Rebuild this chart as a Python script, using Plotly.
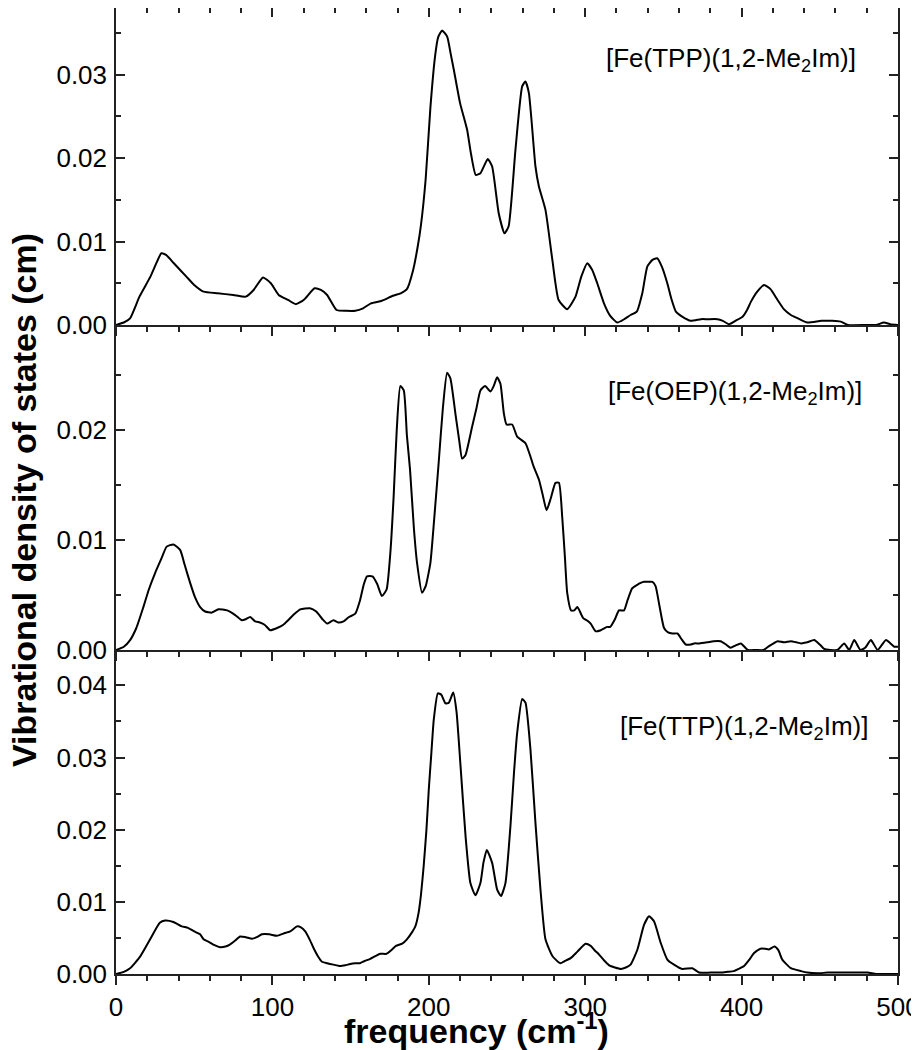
import plotly.graph_objects as go

# ---------------- data ----------------
tpp_freq = [0, 5, 9, 15, 22, 26, 29, 32, 37, 45, 50, 56, 65, 75, 83, 88, 94, 99, 104, 110,
            115, 120, 127, 131, 135, 141, 147, 153, 158, 163, 170, 177, 182, 186, 190, 193, 195,
            198, 201, 204, 206, 208.5, 211.7, 214, 216, 220, 224.5, 227, 230, 233, 237.7, 240.5,
            244.7, 248.4, 251, 255.4, 259.7, 261.8, 264, 268.2, 270.4, 274.6, 279, 283, 288.5,
            293.8, 297.5, 301.3, 304.5, 307.7, 312, 316, 320.5, 325, 329, 333, 336.5, 339.7, 343,
            346, 349, 352.5, 355, 358, 362, 367.5, 374, 378, 384.6, 388, 392, 396, 400.6, 403.5,
            406, 410, 414.4, 418.5, 423, 427, 431.5, 436, 442, 451, 458, 463.5, 468, 480, 486,
            491, 495, 500]
tpp_dos = [0, 0.0003, 0.0008, 0.0034, 0.0058, 0.0075, 0.0086, 0.0084, 0.0074, 0.0058, 0.0048,
           0.0040, 0.0038, 0.0036, 0.0034, 0.0042, 0.0057, 0.0050, 0.0036, 0.0030, 0.0025, 0.0030,
           0.0044, 0.0042, 0.0036, 0.0018, 0.0017, 0.0017, 0.0020, 0.0026, 0.0029, 0.0035, 0.0038,
           0.0043, 0.0066, 0.0095, 0.0120, 0.0175, 0.0260, 0.0322, 0.0345, 0.0353, 0.0346, 0.0325,
           0.0306, 0.0266, 0.0234, 0.0205, 0.0180, 0.0182, 0.0199, 0.0190, 0.0134, 0.0110, 0.0118,
           0.0210, 0.0286, 0.0292, 0.0278, 0.0190, 0.0166, 0.0138, 0.0078, 0.0030, 0.0019, 0.0034,
           0.0058, 0.0074, 0.0066, 0.0050, 0.0026, 0.0011, 0.0003, 0.0007, 0.0012, 0.0016, 0.0038,
           0.0070, 0.0078, 0.0080, 0.0070, 0.0050, 0.0032, 0.0016, 0.0010, 0.0005, 0.0007, 0.0007,
           0.0007, 0.0005, 0.0001, 0.0005, 0.0010, 0.0018, 0.0028, 0.0040, 0.0048, 0.0043, 0.0030,
           0.0019, 0.0012, 0.0008, 0.0003, 0.0005, 0.0005, 0.0004, 0.0000, 0.0000, 0.0000, 0.0003,
           0.0001, 0.0000]

oep_freq = [0, 5, 9, 13, 17.5, 21, 25, 29, 32.4, 36.7, 41, 44, 47.4, 50.5, 53.8, 57, 61.3, 65.5,
            71, 76, 80.5, 83, 85.8, 89, 92, 95, 98.6, 103, 107, 110, 113.5, 117.8, 124, 128, 132,
            135, 139, 142, 145.5, 149, 153, 156, 158.5, 160.5, 164, 167, 170, 173, 175.5, 177.5,
            179.5, 181.8, 184, 186, 188, 190.5, 192.5, 195.7, 198, 201, 203.5, 206.3, 209, 211.7,
            213.8, 217, 219.5, 221.3, 223.4, 227.7, 230.5, 233, 236, 239.4, 241.5, 243.7, 245.8,
            248, 249.7, 253.3, 256.5, 261.8, 264.5, 267, 270.4, 273, 275.3, 278, 281, 283.2, 285.3,
            287, 288.5, 291, 293, 295, 298.7, 301, 303.5, 306.7, 310, 314, 316, 319, 321.6, 324.8,
            327, 330, 333, 335.5, 337.6, 341, 343, 345, 347.5, 350.4, 353, 355.8, 359, 361.5,
            364.3, 367.5, 369.6, 373, 378, 382, 386.6, 390, 393, 396, 399.5, 404, 409, 414, 418,
            423, 427, 431.5, 435, 438, 442, 446.4, 450, 452.8, 457, 461.3, 465.6, 468.8, 472, 476,
            479, 482.7, 487, 492.3, 497.6, 500]
oep_dos = [0, 0.0003, 0.0009, 0.0020, 0.0039, 0.0055, 0.0070, 0.0083, 0.0094, 0.0096, 0.0091,
           0.0077, 0.0061, 0.0048, 0.0039, 0.0035, 0.0034, 0.0037, 0.0036, 0.0032, 0.0027, 0.0028,
           0.0030, 0.0026, 0.0025, 0.0023, 0.0018, 0.0020, 0.0023, 0.0027, 0.0032, 0.0037, 0.0038,
           0.0035, 0.0028, 0.0024, 0.0027, 0.0025, 0.0026, 0.0030, 0.0033, 0.0045, 0.0060, 0.0067,
           0.0067, 0.0060, 0.0049, 0.0055, 0.0090, 0.0139, 0.0200, 0.0240, 0.0236, 0.0195, 0.0164,
           0.0110, 0.0079, 0.0052, 0.0058, 0.0079, 0.0120, 0.0170, 0.0220, 0.0252, 0.0247, 0.0215,
           0.0190, 0.0174, 0.0177, 0.0203, 0.0220, 0.0236, 0.0240, 0.0235, 0.0240, 0.0248, 0.0242,
           0.0215, 0.0205, 0.0205, 0.0194, 0.0188, 0.0178, 0.0167, 0.0155, 0.0140, 0.0127, 0.0138,
           0.0152, 0.0152, 0.0121, 0.0085, 0.0052, 0.0036, 0.0036, 0.0039, 0.0029, 0.0027, 0.0024,
           0.0017, 0.0018, 0.0021, 0.0021, 0.0028, 0.0036, 0.0036, 0.0045, 0.0056, 0.0059, 0.0061,
           0.0062, 0.0062, 0.0062, 0.0058, 0.0040, 0.0020, 0.0016, 0.0015, 0.0015, 0.0010, 0.0005,
           0.0005, 0.0006, 0.0006, 0.0007, 0.0008, 0.0008, 0.0005, 0.0002, 0.0004, 0.0006, 0.0000,
           0.0000, 0.0000, 0.0004, 0.0008, 0.0007, 0.0008, 0.0007, 0.0006, 0.0007, 0.0009, 0.0005,
           0.0001, 0.0000, 0.0000, 0.0006, 0.0000, 0.0009, 0.0000, 0.0002, 0.0009, 0.0000, 0.0009,
           0.0003, 0.0003]

ttp_freq = [0, 5, 9, 15.4, 21.8, 28, 31.4, 36.7, 42, 46, 50, 53.8, 56, 59, 63, 66.6, 70, 73, 76,
            79.4, 83, 87, 90, 93.3, 98, 102.9, 107, 111.4, 115.7, 118, 121, 124, 126.3, 129, 131.7,
            135, 139, 143.4, 146.5, 149.8, 153, 156, 159, 162.6, 166, 169, 173, 176, 179, 183, 186,
            189, 191.4, 193.5, 195, 196.7, 198.5, 200, 201.6, 203.2, 205.8, 208, 210.7, 212.8,
            215.6, 217.7, 220.3, 223.5, 226.6, 229.8, 233, 235, 237.1, 240.5, 243.7, 246.2, 249,
            252.2, 254.5, 256.5, 259.7, 261.8, 265, 268.2, 271.4, 274.6, 279, 284, 287, 290.7, 295,
            300.2, 303.5, 306, 308.8, 312, 315.3, 319, 322.8, 326, 329, 333.4, 337.6, 340.8, 344,
            348.3, 352.5, 356.8, 362, 368.5, 372.8, 380, 386.7, 391, 395, 398, 401.6, 405, 408, 412,
            415, 417.5, 421, 423.5, 426, 431.5, 438, 442, 448.5, 455, 462, 470, 476, 480.6, 486,
            491, 500]
ttp_dos = [0, 0.0003, 0.0008, 0.0024, 0.0048, 0.0071, 0.0074, 0.0072, 0.0066, 0.0064, 0.0059,
           0.0055, 0.0048, 0.0045, 0.0040, 0.0037, 0.0038, 0.0041, 0.0046, 0.0052, 0.0051, 0.0049,
           0.0051, 0.0055, 0.0055, 0.0053, 0.0056, 0.0059, 0.0066, 0.0065, 0.0059, 0.0047, 0.0036,
           0.0025, 0.0017, 0.0015, 0.0013, 0.0011, 0.0012, 0.0014, 0.0015, 0.0015, 0.0018, 0.0021,
           0.0025, 0.0028, 0.0028, 0.0033, 0.0039, 0.0042, 0.0048, 0.0057, 0.0066, 0.0085, 0.0110,
           0.0149, 0.0200, 0.0256, 0.0305, 0.0353, 0.0389, 0.0387, 0.0375, 0.0376, 0.0390, 0.0364,
           0.0288, 0.0191, 0.0126, 0.0109, 0.0126, 0.0155, 0.0172, 0.0154, 0.0117, 0.0108, 0.0126,
           0.0205, 0.0280, 0.0334, 0.0381, 0.0376, 0.0311, 0.0209, 0.0117, 0.0048, 0.0025, 0.0015,
           0.0018, 0.0022, 0.0031, 0.0042, 0.0039, 0.0033, 0.0027, 0.0019, 0.0012, 0.0009, 0.0007,
           0.0009, 0.0013, 0.0034, 0.0068, 0.0080, 0.0073, 0.0043, 0.0020, 0.0013, 0.0007, 0.0008,
           0.0002, 0.0002, 0.0002, 0.0003, 0.0004, 0.0007, 0.0011, 0.0020, 0.0029, 0.0035, 0.0035,
           0.0034, 0.0038, 0.0033, 0.0020, 0.0008, 0.0004, 0.0002, 0.0001, 0.0002, 0.0002, 0.0002,
           0.0002, 0.0002, 0.0000, 0.0000, 0.0000]

panel_labels = ["[Fe(TPP)(1,2-Me<sub>2</sub>Im)]",
                "[Fe(OEP)(1,2-Me<sub>2</sub>Im)]",
                "[Fe(TTP)(1,2-Me<sub>2</sub>Im)]"]
y_title = "Vibrational density of states (cm)"
x_title = "frequency (cm<sup>-1</sup>)"

# ---------------- figure ----------------
FONT = "Liberation Sans, Arial, sans-serif"
AXC = "#222222"
line_style = dict(color="black", width=2, shape="spline", smoothing=0.5)

# The page has an 8 px body margin; figure is sized to fit the window.
W, H = 911, 1042
ML, MR, MT, MB = 108, 21, 0, 76
PH = H - MT - MB  # 966

fig = go.Figure()
fig.add_trace(go.Scatter(x=ttp_freq, y=ttp_dos, xaxis="x", yaxis="y", mode="lines", line=line_style))
fig.add_trace(go.Scatter(x=oep_freq, y=oep_dos, xaxis="x2", yaxis="y2", mode="lines", line=line_style))
fig.add_trace(go.Scatter(x=tpp_freq, y=tpp_dos, xaxis="x3", yaxis="y3", mode="lines", line=line_style))
# empty trace to activate the top-border tick axis
fig.add_trace(go.Scatter(x=[], y=[], xaxis="x4", yaxis="y3", mode="lines"))

# panel borders in screen px: 325 and 650; bottom axis at 974
b1 = (974 - 650) / PH
b2 = (974 - 325) / PH

xcommon = dict(range=[0, 500], showline=True, linecolor=AXC, linewidth=1.5,
               ticks="outside", ticklen=9, tickwidth=1.5, tickcolor=AXC, dtick=100, tick0=0,
               minor=dict(dtick=20, ticks="outside", ticklen=5, tickwidth=1.5, tickcolor=AXC),
               showgrid=False, zeroline=False, ticklabeloverflow="allow",
               tickfont=dict(family=FONT, size=26, color="black"))

ycommon = dict(showline=True, linecolor=AXC, linewidth=1.5, mirror="ticks",
               ticks="inside", ticklen=9, tickwidth=1.5, tickcolor=AXC, dtick=0.01, tick0=0,
               minor=dict(dtick=0.005, ticks="inside", ticklen=5, tickwidth=1.5, tickcolor=AXC),
               showgrid=False, zeroline=False, tickformat=".2f", ticklabelstandoff=2,
               tickfont=dict(family=FONT, size=26, color="black"))

fig.update_layout(
    width=W, height=H,
    margin=dict(l=ML, r=MR, t=MT, b=MB, pad=0),
    paper_bgcolor="white", plot_bgcolor="white",
    showlegend=False,
    xaxis=dict(xcommon, anchor="y", domain=[0, 1]),
    xaxis2=dict(xcommon, anchor="y2", domain=[0, 1], showticklabels=False),
    xaxis3=dict(xcommon, anchor="y3", domain=[0, 1], showticklabels=False),
    xaxis4=dict(xcommon, anchor="y3", overlaying="x3", side="top", ticks="inside",
                minor=dict(dtick=20, ticks="inside", ticklen=5, tickwidth=1.5, tickcolor=AXC),
                showticklabels=False),
    yaxis=dict(ycommon, anchor="x", domain=[0, b1], range=[0, 0.0449]),
    yaxis2=dict(ycommon, anchor="x2", domain=[b1, b2], range=[0, 0.02955]),
    yaxis3=dict(ycommon, anchor="x3", domain=[b2, 1], range=[0, 0.0380]),
)

def px_to_paper(px, py):
    return (px - 8 - ML) / (W - ML - MR), (974 - py) / PH

# panel labels (right anchored)
label_pos = [(858, 59), (864, 392), (870, 727)]
for txt, (px, py) in zip(panel_labels, label_pos):
    xp, yp = px_to_paper(px, py)
    fig.add_annotation(text=txt, xref="paper", yref="paper", x=xp, y=yp,
                       xanchor="right", yanchor="middle", showarrow=False,
                       font=dict(family=FONT, size=26, color="black"))

# axis titles
xp, yp = px_to_paper(24, 500)
fig.add_annotation(text="<b>" + y_title + "</b>", xref="paper", yref="paper",
                   x=xp, y=yp, textangle=-90,
                   xanchor="center", yanchor="middle", showarrow=False,
                   font=dict(family=FONT, size=34, color="black"))
xp, yp = px_to_paper(476, 1029)
fig.add_annotation(text="<b>" + x_title + "</b>", xref="paper", yref="paper",
                   x=xp, y=yp,
                   xanchor="center", yanchor="middle", showarrow=False,
                   font=dict(family=FONT, size=34, color="black"))

fig.write_html("out.html")
